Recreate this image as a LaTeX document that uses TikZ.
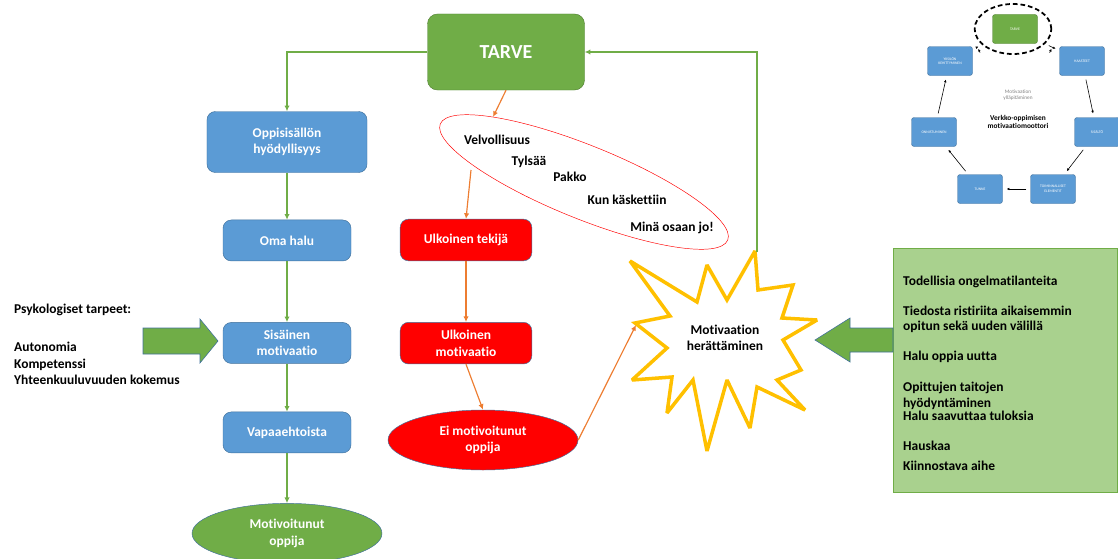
\documentclass[tikz,border=0pt]{standalone}
\usepackage{fontspec}
\setmainfont{Carlito}[Ligatures=NoCommon]
\usepackage{tikz}
\usetikzlibrary{arrows.meta,positioning,shapes.geometric,calc,decorations.markings}
\definecolor{needgreen}{HTML}{70AD47}
\definecolor{needline}{HTML}{507E32}
\definecolor{boxblue}{HTML}{5B9BD5}
\definecolor{boxline}{HTML}{41719C}
\definecolor{outred}{HTML}{FF0000}
\definecolor{arrorange}{HTML}{ED7D31}
\definecolor{burstyellow}{HTML}{FFC000}
\definecolor{listgreen}{HTML}{A9D18E}
\newcommand{\minifont}{\fontsize{3.2}{3.8}\selectfont\mdseries}

\begin{document}
\begin{tikzpicture}[x=0.03cm,y=-0.03cm,
  font=\fontsize{11.5}{14}\selectfont\bfseries, >={Latex[length=1.7mm,width=1.6mm]},
  bluebox/.style={draw=boxline,fill=boxblue,rounded corners=2.5mm,text=white,align=center,
                  minimum width=3.84cm,minimum height=1.23cm},
  redbox/.style={draw=boxline,fill=outred,rounded corners=2.5mm,text=white,align=center,
                 minimum width=3.95cm,minimum height=1.25cm},
  greenell/.style={draw=boxline,fill=needgreen,ellipse,text=white,align=center,
                   minimum width=5.7cm,minimum height=1.8cm},
  redell/.style={draw=boxline,fill=outred,ellipse,text=white,align=center,
                 minimum width=5.7cm,minimum height=1.8cm},
  grarr/.style={->,draw=needgreen,line width=1.2pt},
  orarr/.style={->,draw=arrorange,line width=1pt},
  blockarr/.style={fill=needgreen,draw=boxline,line width=0.5pt},
  minibox/.style={draw=boxline,fill=boxblue,rounded corners=0.8mm,text=white,align=center,
                  font=\minifont,minimum width=1.35cm,minimum height=0.87cm},
  miniarr/.style={-{Latex[length=0.8mm,width=0.8mm]},line width=0.5pt,shorten <=0.12cm,shorten >=0.12cm},
  crossed/.style={postaction={decorate},decoration={markings,
                  mark=at position 0.5 with {\draw[line width=0.5pt] (0,-1.8pt) -- (0,1.8pt);}}}
]
\useasboundingbox (0,0) rectangle (1118,559);

% TARVE ja sisainen polku
\node[draw=needline,fill=needgreen,rounded corners=3mm,text=white,font=\fontsize{17}{20}\selectfont\bfseries,
      minimum width=4.71cm,minimum height=2.28cm] (tarve) at (506,52) {TARVE};
\node[bluebox,minimum width=4.8cm,minimum height=1.83cm] (hyoty) at (287,142) {Oppisisällön\\hyödyllisyys};
\node[bluebox,below=1.41cm of hyoty] (halu) {Oma halu};
\node[bluebox,below=1.83cm of halu] (sisainen) {Sisäinen\\motivaatio};
\node[bluebox,below=1.44cm of sisainen] (vapaa) {Vapaaehtoista};
\node[greenell,below=1.5cm of vapaa] (motiv) {Motivoitunut\\oppija};

\draw[grarr] (tarve.west) -| (hyoty.north);
\draw[grarr] (hyoty) -- (halu);
\draw[grarr] (halu) -- (sisainen);
\draw[grarr] (sisainen) -- (vapaa);
\draw[grarr] (vapaa) -- (motiv);

% psykologiset tarpeet
\node[anchor=west,align=left] (psyk) at (10,310) {Psykologiset tarpeet:};
\node[align=left,below=0.55cm of psyk.south west,anchor=north west] (tarpeet)
  {Autonomia\\Kompetenssi\\Yhteenkuuluvuuden kokemus};
\coordinate (psykarr) at (143,341);
\fill[blockarr] (psykarr) ++(0,-13) -- ++(57,0) -- ++(0,-9) -- ++(18,22) -- ++(-18,22) -- ++(0,-9) -- ++(-57,0) -- cycle;

% ulkoinen polku
\node[draw=red,ellipse,rotate=-22,minimum width=9.3cm,minimum height=2.2cm] (duty) at (584,182) {};
\node (velv) at (497,140) {Velvollisuus};
\node (tylsa) at (529,162) {Tylsää};
\node (pakko) at (570,177) {Pakko};
\node (kasky) at (627,200) {Kun käskettiin};
\node (osaan) at (672,228) {Minä osaan jo!};
\coordinate (dutytop) at (493,117);
\coordinate (dutylow) at (471,170);

\node[redbox] (ulktek) at (466,240) {Ulkoinen tekijä};
\node[redbox,below=1.83cm of ulktek] (ulkmot) {Ulkoinen\\motivaatio};
\node[redell] (eimot) at (483,440) {Ei motivoitunut\\oppija};

\draw[orarr] (tarve.south) -- (dutytop);
\draw[orarr] (dutylow) -- (ulktek.north);
\draw[orarr] (ulktek) -- (ulkmot);
\draw[orarr] (ulkmot.south) -- (eimot.north);

% herattaminen
\draw[draw=burstyellow,fill=white,line width=3pt,line join=miter,miter limit=2.5]
  (630,261) -- (697,302) -- (707,265) -- (727,300) -- (755,251) -- (758,290) -- (793,285) -- (782,318)
  -- (817,320) -- (783,340) -- (801,370) -- (777,380) -- (805,410) -- (757,387) -- (750,428) -- (727,380)
  -- (707,451) -- (693,380) -- (667,413) -- (672,377) -- (632,380) -- (667,348) -- (635,323) -- (670,316) -- cycle;
\node[align=center] (burst) at (725,338) {Motivaation\\herättäminen};
\coordinate (burstleft) at (636,325);
\coordinate (bursttop) at (757,252);
\draw[orarr] (eimot.east) -- (burstleft);
\draw[grarr] (bursttop) |- (tarve.east);

% syyt
\node[draw=needgreen,fill=listgreen,anchor=north west,minimum width=6.72cm,minimum height=7.32cm] (syyt) at (893,248) {};
\foreach \txt/\yy [count=\i] in {Todellisia ongelmatilanteita/282,Tiedosta ristiriita aikaisemmin/311,
    opitun sekä uuden välillä/327,Halu oppia uutta/357,Opittujen taitojen/388,hyödyntäminen/404,
    Halu saavuttaa tuloksia/416,Hauskaa/446,Kiinnostava aihe/466}
  \node[anchor=west,inner sep=0pt] (syy\i) at (903,\yy) {\txt};
\coordinate (syyarr) at (893,340);
\fill[blockarr] (syyarr) ++(0,-12) -- ++(-43,0) -- ++(0,-10) -- ++(-35,22) -- ++(35,22) -- ++(0,-10) -- ++(43,0) -- cycle;

% pieni motivaatiomoottori
\node[minibox,draw=needline,fill=needgreen] (mtarve) at (1015,29) {TARVE};
\node[draw,dashed,ellipse,line width=1.5pt,dash pattern=on 4pt off 2.5pt,
      minimum width=2.3cm,minimum height=1.5cm] (mring) at (1013,29) {};
\node[minibox] (mhaaste) at (1082,61) {HAASTEET};
\node[minibox] (msisalto) at (1097,132) {SISÄLTÖ};
\node[minibox] (mtoimi) at (1053,189) {TOIMINNALLISET\\ELEMENTIT};
\node[minibox] (mtunne) at (980,189) {TUNNE};
\node[minibox] (monni) at (934,132) {ONNISTUMINEN};
\node[minibox] (myksilo) at (950,61) {YKSILÖN\\KEHITTYMINEN};
\node[align=center,text=gray,font=\fontsize{4.5}{5.5}\selectfont\mdseries] (mylla) at (1018,95) {Motivaation\\ylläpitäminen};
\node[align=center,font=\fontsize{6.3}{7.5}\selectfont\bfseries] (mmoottori) at (1018,122) {Verkko-oppimisen\\motivaatiomoottori};

\draw[miniarr,crossed] (myksilo) -- (mring);
\draw[miniarr,crossed] (mring) -- (mhaaste);
\draw[miniarr] (mhaaste) -- (msisalto);
\draw[miniarr] (msisalto) -- (mtoimi);
\draw[miniarr] (mtoimi) -- (mtunne);
\draw[miniarr] (mtunne) -- (monni);
\draw[miniarr] (monni) -- (myksilo);
\end{tikzpicture}
\end{document}
